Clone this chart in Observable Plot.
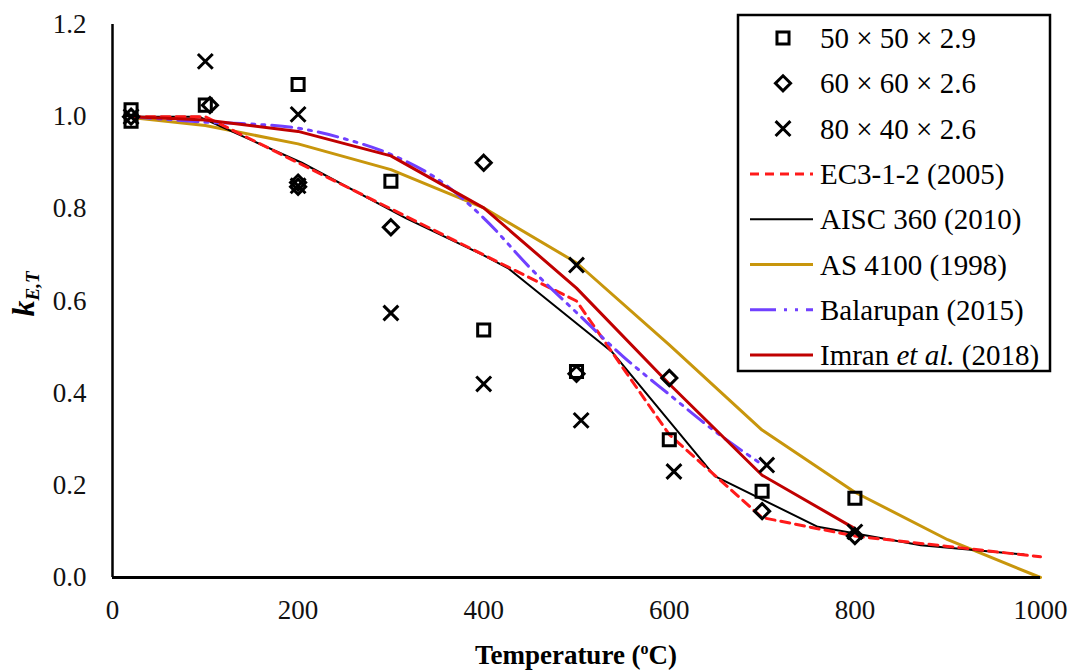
<!DOCTYPE html>
<html><head><meta charset="utf-8">
<script src="https://cdn.jsdelivr.net/npm/d3@7"></script>
<script src="https://cdn.jsdelivr.net/npm/@observablehq/plot@0.6"></script>
<style>body{margin:0;background:#fff} #chart{position:relative;width:1073px;height:670px}</style>
</head><body><div id="chart"></div>
<script>
const xTicks = [0, 200, 400, 600, 800, 1000];
const yTicks = [0, 0.2, 0.4, 0.6, 0.8, 1.0, 1.2];

// Test data (markers)
const sqT = [20, 20, 100, 200, 300, 400, 500, 600, 700, 800];
const sqK = [1.015, 0.99, 1.025, 1.07, 0.86, 0.537, 0.447, 0.299, 0.187, 0.172];
const diaT = [20, 105, 200, 200, 300, 400, 500, 600, 700, 800];
const diaK = [1.0, 1.025, 0.857, 0.848, 0.76, 0.90, 0.442, 0.433, 0.144, 0.09];
const crT = [20, 100, 200, 200, 300, 400, 500, 505, 605, 705, 800];
const crK = [1.0, 1.12, 1.005, 0.85, 0.574, 0.42, 0.678, 0.341, 0.23, 0.244, 0.099];

// Design curves
const ec3T = [20, 100, 200, 300, 400, 500, 600, 700, 800, 900, 1000];
const ec3K = [1, 1, 0.9, 0.8, 0.7, 0.6, 0.31, 0.13, 0.09, 0.0675, 0.045];
const aiscT = [20, 93, 204, 316, 399, 427, 538, 649, 760, 871, 982];
const aiscK = [1, 1, 0.9, 0.78, 0.7, 0.67, 0.49, 0.22, 0.11, 0.07, 0.05];
const asT = [20, 100, 200, 300, 400, 500, 600, 700, 800, 900, 1000];
const asK = [0.998, 0.981, 0.941, 0.885, 0.802, 0.683, 0.505, 0.32, 0.185, 0.082, 0];
const balT = [20, 100, 150, 200, 250, 300, 350, 400, 450, 500, 550, 600, 650, 700];
const balK = [1.0, 0.988, 0.984, 0.975, 0.952, 0.918, 0.865, 0.78, 0.672, 0.575, 0.48, 0.397, 0.316, 0.245];
const imT = [20, 100, 200, 300, 400, 500, 600, 700, 800];
const imK = [1.0, 0.993, 0.968, 0.915, 0.802, 0.628, 0.42, 0.222, 0.106];

const legendLabels = ["50 × 50 × 2.9", "60 × 60 × 2.6", "80 × 40 × 2.6", "EC3-1-2 (2005)", "AISC 360 (2010)", "AS 4100 (1998)", "Balarupan (2015)", "Imran et al. (2018)"];

const C = {ec3: "#ff1a1a", aisc: "#000000", as: "#c8960c", bal: "#7040ff", im: "#c00000"};
const balDash = "20,7,3,7,3,7";
const mk = (T, K) => T.map((t, i) => ({t, k: K[i]}));
const R = 6.8;

const plot = Plot.plot({
  width: 1073, height: 670,
  marginLeft: 112, marginRight: 33, marginTop: 24, marginBottom: 93,
  style: {fontFamily: "'Liberation Serif','Times New Roman',serif", fontSize: "27px", color: "#111", background: "#fff"},
  x: {domain: [0, 1000], ticks: xTicks, tickSize: 0, tickPadding: 22, tickFormat: d => String(d), label: null},
  y: {domain: [0, 1.2], ticks: yTicks, tickSize: 0, tickPadding: 26, tickFormat: d => d.toFixed(1), label: null},
  marks: [
    Plot.line(mk(asT, asK), {x: "t", y: "k", stroke: C.as, strokeWidth: 3}),
    Plot.line(mk(aiscT, aiscK), {x: "t", y: "k", stroke: C.aisc, strokeWidth: 2}),
    Plot.line(mk(ec3T, ec3K), {x: "t", y: "k", stroke: C.ec3, strokeWidth: 3, strokeDasharray: "9,6"}),
    Plot.line(mk(balT, balK), {x: "t", y: "k", stroke: C.bal, strokeWidth: 3, strokeDasharray: balDash, curve: "catmull-rom"}),
    Plot.line(mk(imT, imK), {x: "t", y: "k", stroke: C.im, strokeWidth: 3}),
    Plot.ruleY([0], {stroke: "#000", strokeWidth: 3}),
    Plot.ruleX([0], {stroke: "#000", strokeWidth: 2.5}),
    Plot.dot(mk(sqT, sqK), {x: "t", y: "k", symbol: "square", r: R, stroke: "#000", strokeWidth: 3, fill: "none"}),
    Plot.dot(mk(diaT, diaK), {x: "t", y: "k", symbol: "diamond2", r: R, stroke: "#000", strokeWidth: 3, fill: "none"}),
    Plot.dot(mk(crT, crK), {x: "t", y: "k", symbol: "times", r: R, stroke: "#000", strokeWidth: 3, fill: "none"})
  ]
});

document.getElementById("chart").appendChild(plot);
const svg = d3.select(plot);
const serif = "'Liberation Serif','Times New Roman',serif";

// axis titles
const yl = svg.append("text").attr("transform", "translate(34,294) rotate(-90)")
  .attr("text-anchor", "middle").attr("font-family", serif).attr("font-weight", "bold")
  .attr("font-style", "italic").attr("fill", "#000");
yl.append("tspan").attr("font-size", 32).text("k");
yl.append("tspan").attr("font-size", 19).attr("dy", 5).text("E,T");

const xl = svg.append("text").attr("x", 576).attr("y", 664).attr("text-anchor", "middle")
  .attr("font-family", serif).attr("font-weight", "bold").attr("font-size", 27).attr("fill", "#000");
xl.append("tspan").text("Temperature (");
xl.append("tspan").attr("font-size", 16).attr("dy", -10).text("o");
xl.append("tspan").attr("dy", 10).text("C)");

// legend
const lg = svg.append("g").attr("font-family", serif).attr("font-size", 29).attr("fill", "#000")
  .attr("text-anchor", "start");
lg.append("rect").attr("x", 738).attr("y", 15).attr("width", 312).attr("height", 356)
  .attr("fill", "#fff").attr("stroke", "#000").attr("stroke-width", 2.5);
const rowY = i => 38 + i * 45.3;
const sym = [d3.symbolSquare, d3.symbolDiamond2, d3.symbolTimes];
const styles = [
  {s: C.ec3, w: 3, d: "9,6"}, {s: C.aisc, w: 2, d: null}, {s: C.as, w: 3, d: null},
  {s: C.bal, w: 3, d: "26,8,3,8,3,8"}, {s: C.im, w: 3, d: null}
];
legendLabels.forEach((lab, i) => {
  const y = rowY(i);
  if (i < 3) {
    lg.append("path").attr("transform", `translate(783,${y})`)
      .attr("d", d3.symbol(sym[i], Math.PI * R * R)())
      .attr("fill", "none").attr("stroke", "#000").attr("stroke-width", 3);
  } else {
    const st = styles[i - 3];
    lg.append("line").attr("x1", 750).attr("x2", 813).attr("y1", y).attr("y2", y)
      .attr("stroke", st.s).attr("stroke-width", st.w).attr("stroke-dasharray", st.d);
  }
  const t = lg.append("text").attr("x", 820).attr("y", y + 10).attr("text-anchor", "start");
  if (lab.includes("et al.")) {
    t.append("tspan").text("Imran ");
    t.append("tspan").attr("font-style", "italic").text("et al.");
    t.append("tspan").text(" (2018)");
  } else t.text(lab);
});
</script></body></html>
